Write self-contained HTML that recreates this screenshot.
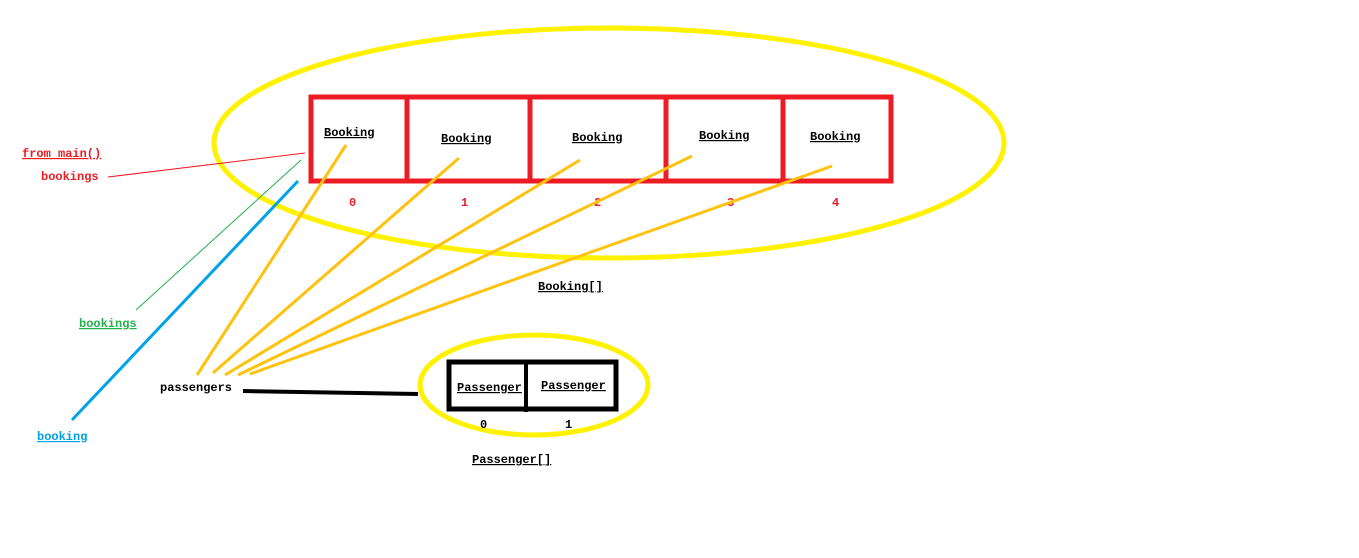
<!DOCTYPE html>
<html><head><style>body{margin:0;background:#fff}svg{display:block}text{font-family:"Liberation Mono",monospace;font-weight:bold;font-size:12px}</style></head><body>
<svg width="1359" height="558" xmlns="http://www.w3.org/2000/svg">
<ellipse cx="609" cy="143" rx="395" ry="115" fill="none" stroke="#fff200" stroke-width="5"/>
<rect x="311" y="97" width="580" height="84" fill="none" stroke="#ed1c24" stroke-width="5"/>
<g stroke="#ed1c24" stroke-width="5"><line x1="407" y1="97" x2="407" y2="181"/><line x1="530" y1="97" x2="530" y2="181"/><line x1="666" y1="97" x2="666" y2="181"/><line x1="783" y1="97" x2="783" y2="181"/></g>
<g text-decoration="underline" fill="#000">
<text x="324" y="136">Booking</text><text x="441" y="142">Booking</text><text x="572" y="141">Booking</text><text x="699" y="139">Booking</text><text x="810" y="140">Booking</text>
<text x="538" y="290">Booking[]</text>
<text x="457" y="391">Passenger</text><text x="541" y="389">Passenger</text>
<text x="472" y="463">Passenger[]</text></g>
<g fill="#ed1c24"><text x="349" y="206">0</text><text x="461" y="206">1</text><text x="594" y="206">2</text><text x="727" y="206">3</text><text x="832" y="206">4</text>
<text x="22" y="157" text-decoration="underline">from main()</text><text x="41" y="180">bookings</text></g>
<text x="79" y="327" fill="#22b14c" text-decoration="underline">bookings</text>
<text x="37" y="440" fill="#00a2e8" text-decoration="underline">booking</text>
<text x="160" y="391" fill="#000">passengers</text>
<g stroke="#ffc20e" stroke-width="3"><line x1="197" y1="375" x2="346" y2="145"/><line x1="213" y1="373" x2="459" y2="158"/><line x1="225" y1="375" x2="580" y2="160"/><line x1="238" y1="375" x2="692" y2="156"/><line x1="250" y1="374" x2="832" y2="166"/></g>
<line x1="108" y1="177" x2="305" y2="153" stroke="#ed1c24" stroke-width="1"/>
<line x1="136" y1="310" x2="301" y2="160" stroke="#22b14c" stroke-width="1"/>
<line x1="72" y1="420" x2="298" y2="181" stroke="#00a2e8" stroke-width="3"/>
<line x1="243" y1="391" x2="418" y2="394" stroke="#000" stroke-width="4"/>
<ellipse cx="534" cy="385" rx="114" ry="50" fill="none" stroke="#fff200" stroke-width="5"/>
<rect x="449" y="362" width="167" height="47" fill="none" stroke="#000" stroke-width="5"/>
<line x1="526" y1="362" x2="526" y2="412" stroke="#000" stroke-width="4"/>
<text x="480" y="428" fill="#000">0</text><text x="565" y="428" fill="#000">1</text>
</svg></body></html>
